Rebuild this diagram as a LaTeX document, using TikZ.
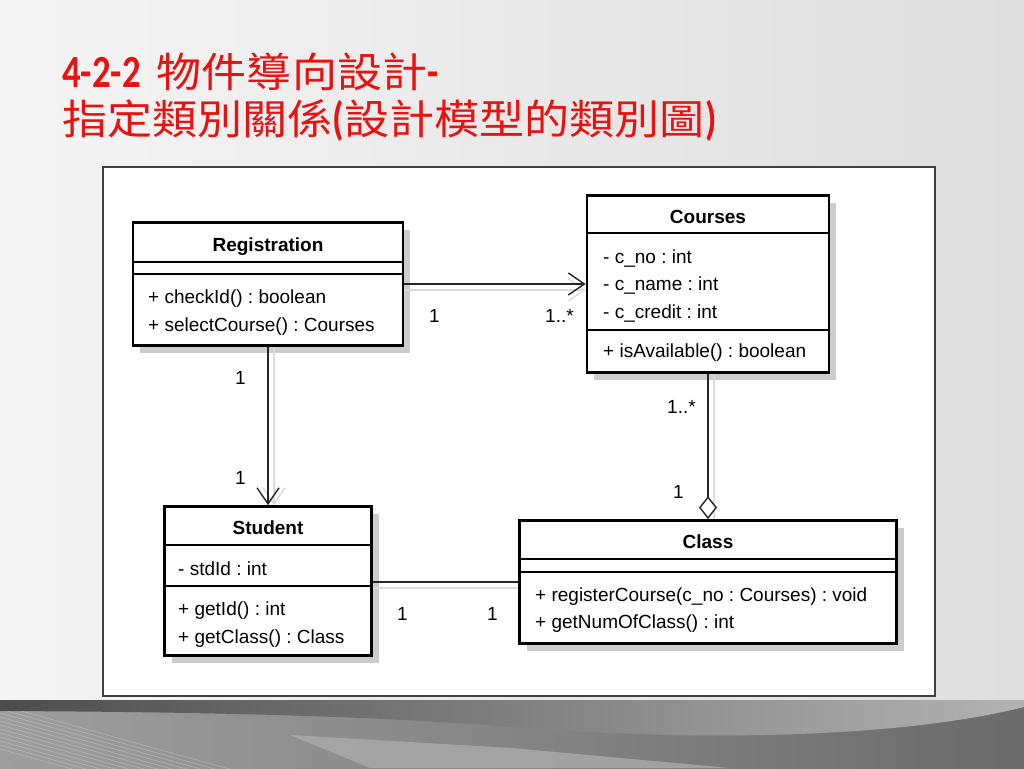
\documentclass[tikz,border=0pt]{standalone}
\usepackage{fontspec}
\setmainfont{Liberation Sans}
\newfontfamily\cjk[FakeStretch=1.1]{Noto Sans CJK TC}
\newfontfamily\ttlfont[FakeStretch=0.8]{Carlito}
\usetikzlibrary{arrows.meta,shadows}
\definecolor{titlered}{RGB}{232,18,16}
\frenchspacing

\begin{document}
\begin{tikzpicture}[x=1pt,y=-1pt,
  umlbox/.style={draw,line width=2.8pt,fill=white,inner sep=0pt,
    drop shadow={shadow xshift=7pt,shadow yshift=-7pt,fill=black!20,opacity=1}},
  sepline/.style={line width=1.5pt},
  lbl/.style={anchor=base west,inner sep=0pt,font=\fontsize{19}{22}\selectfont},
  cname/.style={anchor=base,inner sep=0pt,font=\fontsize{19}{22}\selectfont\bfseries},
  assoc/.style={line width=1.4pt,black!85},
  lshadow/.style={line width=1.4pt,black!14},
  navi/.style={-{Straight Barb[length=16pt,width=22pt]}},
  aggr/.style={-{Diamond[length=23pt,width=18pt,fill=white]}},
  ttl/.style={anchor=base west,inner sep=0pt,text=titlered,font=\fontsize{46}{50}\selectfont\ttlfont}]

\useasboundingbox (0,0) rectangle (1024,768);
\shade[left color=black!4,right color=black!13] (0,0) rectangle (1024,768);

% bottom band
\shade[left color=black!38,right color=black!58] (0,700) rectangle (1024,768);
\shade[left color=black!70,middle color=black!64,right color=black!30] (0,700) -- (1024,700) -- (1024,707)
  .. controls (900,738) and (700,742) .. (512,727) .. controls (400,718) and (250,712) .. (0,711) -- cycle;
\fill[black!33,opacity=.8] (290,735) -- (512,748) -- (730,768) -- (370,768) -- cycle;
\begin{scope}
\clip (0,711) rectangle (300,768);
\foreach \i in {0,...,11}
  \draw[white,opacity=.25,line width=.6pt] (0,705+4*\i) -- ++(240,67);
\end{scope}

\draw[black!75,line width=1.2pt,fill=white] (103,167) rectangle (935,696);

\node[ttl] (title1) at (62,87) {\bfseries 4-2-2\hspace{0.35em}{\fontsize{41}{46}\selectfont\mdseries\cjk 物件導向設計}-};
\node[ttl] (title2) at (62,134) {{\fontsize{41}{46}\selectfont\mdseries\cjk 指定類別關係}\bfseries({\fontsize{41}{46}\selectfont\mdseries\cjk 設計模型的類別圖})};

% classes
\node[umlbox,minimum width=270pt,minimum height=123pt] (reg) at (268,284) {};
\node[umlbox,minimum width=242pt,minimum height=177pt] (crs) at (708,284) {};
\node[umlbox,minimum width=207pt,minimum height=149pt] (stu) at (268,581) {};
\node[umlbox,minimum width=377pt,minimum height=123pt] (cls) at (708,582) {};

\draw[sepline] (reg.west |- 0,262) -- (reg.east |- 0,262);
\draw[sepline] (reg.west |- 0,274) -- (reg.east |- 0,274);
\draw[sepline] (crs.west |- 0,233) -- (crs.east |- 0,233);
\draw[sepline] (crs.west |- 0,330) -- (crs.east |- 0,330);
\draw[sepline] (stu.west |- 0,545) -- (stu.east |- 0,545);
\draw[sepline] (stu.west |- 0,586) -- (stu.east |- 0,586);
\draw[sepline] (cls.west |- 0,559) -- (cls.east |- 0,559);
\draw[sepline] (cls.west |- 0,572) -- (cls.east |- 0,572);

\node[cname] (reg-n) at (268,251) {Registration};
\node[lbl] (reg-m1) at (148,303) {+ checkId() : boolean};
\node[lbl] (reg-m2) at (148,331) {+ selectCourse() : Courses};

\node[cname] (crs-n) at (708,223) {Courses};
\node[lbl] (crs-a1) at (603,263) {- c\_no : int};
\node[lbl] (crs-a2) at (603,290) {- c\_name : int};
\node[lbl] (crs-a3) at (603,318) {- c\_credit : int};
\node[lbl] (crs-m1) at (603,357) {+ isAvailable() : boolean};

\node[cname] (stu-n) at (268,534) {Student};
\node[lbl] (stu-a1) at (178,575) {- stdId : int};
\node[lbl] (stu-m1) at (178,615) {+ getId() : int};
\node[lbl] (stu-m2) at (178,643) {+ getClass() : Class};

\node[cname] (cls-n) at (708,548) {Class};
\node[lbl] (cls-m1) at (535,601) {+ registerCourse(c\_no : Courses) : void};
\node[lbl] (cls-m2) at (535,628) {+ getNumOfClass() : int};

% relations
\draw[lshadow,navi,transform canvas={yshift=-6pt}] (reg) -- (crs);
\draw[assoc,navi] (reg) -- (crs);
\draw[lshadow,navi,transform canvas={xshift=6pt}] (reg) -- (stu);
\draw[assoc,navi] (reg) -- (stu);
\draw[lshadow,transform canvas={xshift=6pt}] (crs) -- (cls);
\draw[assoc,aggr] (crs) -- (cls);
\draw[lshadow,transform canvas={yshift=-6pt}] (stu.east |- 0,582) -- (cls);
\draw[assoc] (stu.east |- 0,582) -- (cls);

\node[lbl] (m1) at (429,322) {1};
\node[lbl] (m2) at (545,322) {1..*};
\node[lbl] (m3) at (235,384) {1};
\node[lbl] (m4) at (235,484) {1};
\node[lbl] (m5) at (667,413) {1..*};
\node[lbl] (m6) at (673,498) {1};
\node[lbl] (m7) at (397,620) {1};
\node[lbl] (m8) at (487,620) {1};
\end{tikzpicture}
\end{document}
